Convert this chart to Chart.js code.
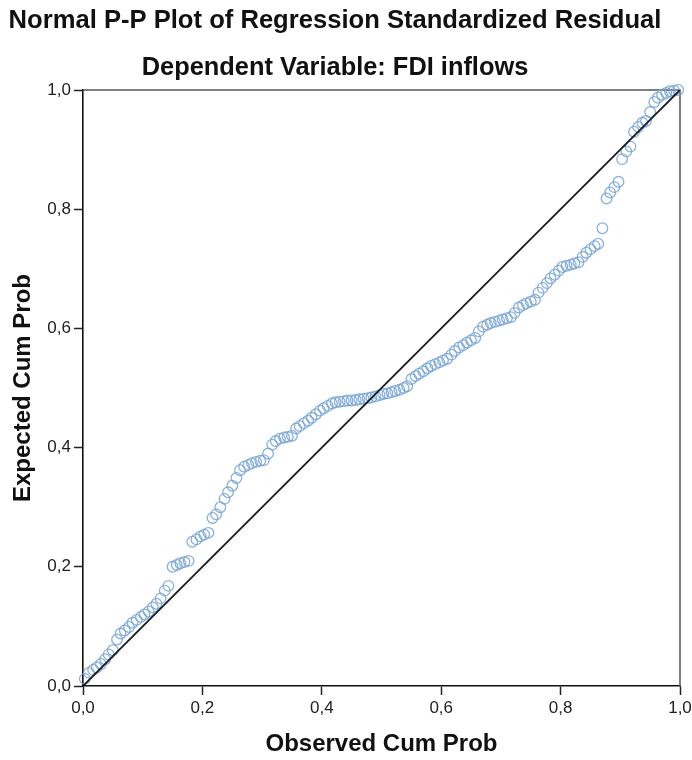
<!DOCTYPE html>
<html>
<head>
<meta charset="utf-8">
<script src="https://cdn.jsdelivr.net/npm/chart.js@4.4.1/dist/chart.umd.min.js"></script>
<style>
  html, body { margin: 0; padding: 0; background: #fff; }
  #wrap { width: 692px; height: 760px; }
</style>
</head>
<body>
<div id="wrap"><canvas id="c" width="692" height="760"></canvas></div>
<script>
const title = "Normal P-P Plot of Regression Standardized Residual";
const subtitle = "Dependent Variable: FDI inflows";
const xTitle = "Observed Cum Prob";
const yTitle = "Expected Cum Prob";
const tickValues = [0, 0.2, 0.4, 0.6, 0.8, 1.0];

// observed cumulative probability (x)
const observed = [
  0.003, 0.010, 0.017, 0.023, 0.030, 0.037, 0.043, 0.050, 0.057, 0.063,
  0.070, 0.077, 0.083, 0.090, 0.097, 0.103, 0.110, 0.117, 0.123, 0.130,
  0.137, 0.143, 0.150, 0.157, 0.163, 0.170, 0.177, 0.183, 0.190, 0.197,
  0.203, 0.210, 0.217, 0.223, 0.230, 0.237, 0.243, 0.250, 0.257, 0.263,
  0.270, 0.277, 0.283, 0.290, 0.297, 0.303, 0.310, 0.317, 0.323, 0.330,
  0.337, 0.343, 0.350, 0.357, 0.363, 0.370, 0.377, 0.383, 0.390, 0.397,
  0.403, 0.410, 0.417, 0.423, 0.430, 0.437, 0.443, 0.450, 0.457, 0.463,
  0.470, 0.477, 0.483, 0.490, 0.497, 0.503, 0.510, 0.517, 0.523, 0.530,
  0.537, 0.543, 0.550, 0.557, 0.563, 0.570, 0.577, 0.583, 0.590, 0.597,
  0.603, 0.610, 0.617, 0.623, 0.630, 0.637, 0.643, 0.650, 0.657, 0.663,
  0.670, 0.677, 0.683, 0.690, 0.697, 0.703, 0.710, 0.717, 0.723, 0.730,
  0.737, 0.743, 0.750, 0.757, 0.763, 0.770, 0.777, 0.783, 0.790, 0.797,
  0.803, 0.810, 0.817, 0.823, 0.830, 0.837, 0.843, 0.850, 0.857, 0.863,
  0.870, 0.877, 0.883, 0.890, 0.897, 0.903, 0.910, 0.917, 0.923, 0.930,
  0.937, 0.943, 0.950, 0.957, 0.963, 0.970, 0.977, 0.983, 0.990, 0.997
];

// expected cumulative probability (y)
const expected = [
  0.012, 0.022, 0.027, 0.031, 0.037, 0.045, 0.053, 0.060, 0.078, 0.088,
  0.093, 0.099, 0.106, 0.111, 0.116, 0.120, 0.125, 0.132, 0.138, 0.147,
  0.160, 0.168, 0.200, 0.203, 0.206, 0.208, 0.210, 0.242, 0.246, 0.251,
  0.254, 0.257, 0.282, 0.288, 0.300, 0.314, 0.325, 0.336, 0.349, 0.362,
  0.368, 0.371, 0.374, 0.376, 0.378, 0.379, 0.390, 0.405, 0.411, 0.415,
  0.417, 0.418, 0.420, 0.432, 0.436, 0.441, 0.445, 0.450, 0.456, 0.462,
  0.466, 0.470, 0.474, 0.476, 0.477, 0.478, 0.479, 0.479, 0.480, 0.481,
  0.482, 0.483, 0.484, 0.486, 0.488, 0.490, 0.491, 0.493, 0.495, 0.497,
  0.500, 0.503, 0.515, 0.520, 0.524, 0.528, 0.533, 0.537, 0.540, 0.543,
  0.546, 0.549, 0.556, 0.562, 0.568, 0.572, 0.576, 0.580, 0.584, 0.595,
  0.603, 0.606, 0.609, 0.611, 0.613, 0.615, 0.617, 0.619, 0.626, 0.635,
  0.639, 0.642, 0.645, 0.648, 0.660, 0.668, 0.676, 0.684, 0.690, 0.697,
  0.703, 0.705, 0.707, 0.709, 0.711, 0.720, 0.727, 0.733, 0.738, 0.742,
  0.768, 0.818, 0.828, 0.837, 0.846, 0.884, 0.897, 0.905, 0.930, 0.938,
  0.945, 0.948, 0.963, 0.980, 0.987, 0.992, 0.995, 0.998, 0.999, 1.000
];

const refLine = [0, 1];

const points = observed.map((x, i) => ({ x: x, y: expected[i] }));
const fmt = v => Number(v).toFixed(1).replace('.', ',');

const textPlugin = {
  id: 'texts',
  afterDraw(chart) {
    const ctx = chart.ctx;
    const area = chart.chartArea;
    ctx.save();
    ctx.fillStyle = '#111';
    ctx.textAlign = 'center';
    ctx.textBaseline = 'middle';
    ctx.font = 'bold 25.6px "Liberation Sans", Arial, sans-serif';
    ctx.fillText(title, 335, 21);
    ctx.font = 'bold 25.4px "Liberation Sans", Arial, sans-serif';
    ctx.fillText(subtitle, 335, 68);
    ctx.font = 'bold 24px "Liberation Sans", Arial, sans-serif';
    ctx.fillText(xTitle, (area.left + area.right) / 2, 744);
    ctx.translate(23, (area.top + area.bottom) / 2);
    ctx.rotate(-Math.PI / 2);
    ctx.fillText(yTitle, 0, 0);
    ctx.restore();
  }
};

const framePlugin = {
  id: 'frame',
  beforeDatasetsDraw(chart) {
    const ctx = chart.ctx;
    const a = chart.chartArea;
    ctx.save();
    ctx.strokeStyle = '#555';
    ctx.lineWidth = 1.5;
    ctx.beginPath();
    ctx.moveTo(a.left, a.top);
    ctx.lineTo(a.right, a.top);
    ctx.lineTo(a.right, a.bottom);
    ctx.stroke();
    ctx.restore();
  }
};

new Chart(document.getElementById('c').getContext('2d'), {
  type: 'scatter',
  data: {
    datasets: [
      {
        label: 'Residual',
        data: points,
        pointStyle: 'circle',
        pointRadius: 5.3,
        pointBorderWidth: 1.3,
        pointBackgroundColor: 'rgba(0,0,0,0)',
        pointBorderColor: 'rgba(115,163,216,0.85)',
        clip: 8,
        order: 2
      },
      {
        label: 'Reference',
        type: 'line',
        data: refLine.map(v => ({ x: v, y: v })),
        borderColor: '#1a1a1a',
        borderWidth: 1.8,
        pointRadius: 0,
        fill: false,
        order: 1
      }
    ]
  },
  options: {
    responsive: false,
    animation: false,
    layout: { padding: { top: 90, right: 12, left: 0, bottom: 0 } },
    plugins: {
      legend: { display: false },
      tooltip: { enabled: false }
    },
    scales: {
      x: {
        type: 'linear',
        min: 0, max: 1,
        afterFit: s => { s.height = 74; s.paddingRight = 0; s.paddingLeft = 0; },
        afterBuildTicks: s => { s.ticks = tickValues.map(v => ({ value: v })); },
        ticks: {
          callback: fmt,
          font: { size: 17, family: '"Liberation Sans", Arial, sans-serif' },
          color: '#222',
          padding: 3,
          maxRotation: 0
        },
        grid: { drawOnChartArea: false, drawTicks: true, tickLength: 9, color: '#222', tickWidth: 1.5 },
        border: { display: true, color: '#111', width: 1.6 }
      },
      y: {
        type: 'linear',
        min: 0, max: 1,
        afterFit: s => { s.width = 83; },
        afterBuildTicks: s => { s.ticks = tickValues.map(v => ({ value: v })); },
        ticks: {
          callback: fmt,
          font: { size: 17, family: '"Liberation Sans", Arial, sans-serif' },
          color: '#222',
          padding: 3
        },
        grid: { drawOnChartArea: false, drawTicks: true, tickLength: 9, color: '#222', tickWidth: 1.5 },
        border: { display: true, color: '#111', width: 1.6 }
      }
    }
  },
  plugins: [framePlugin, textPlugin]
});
</script>
</body>
</html>
